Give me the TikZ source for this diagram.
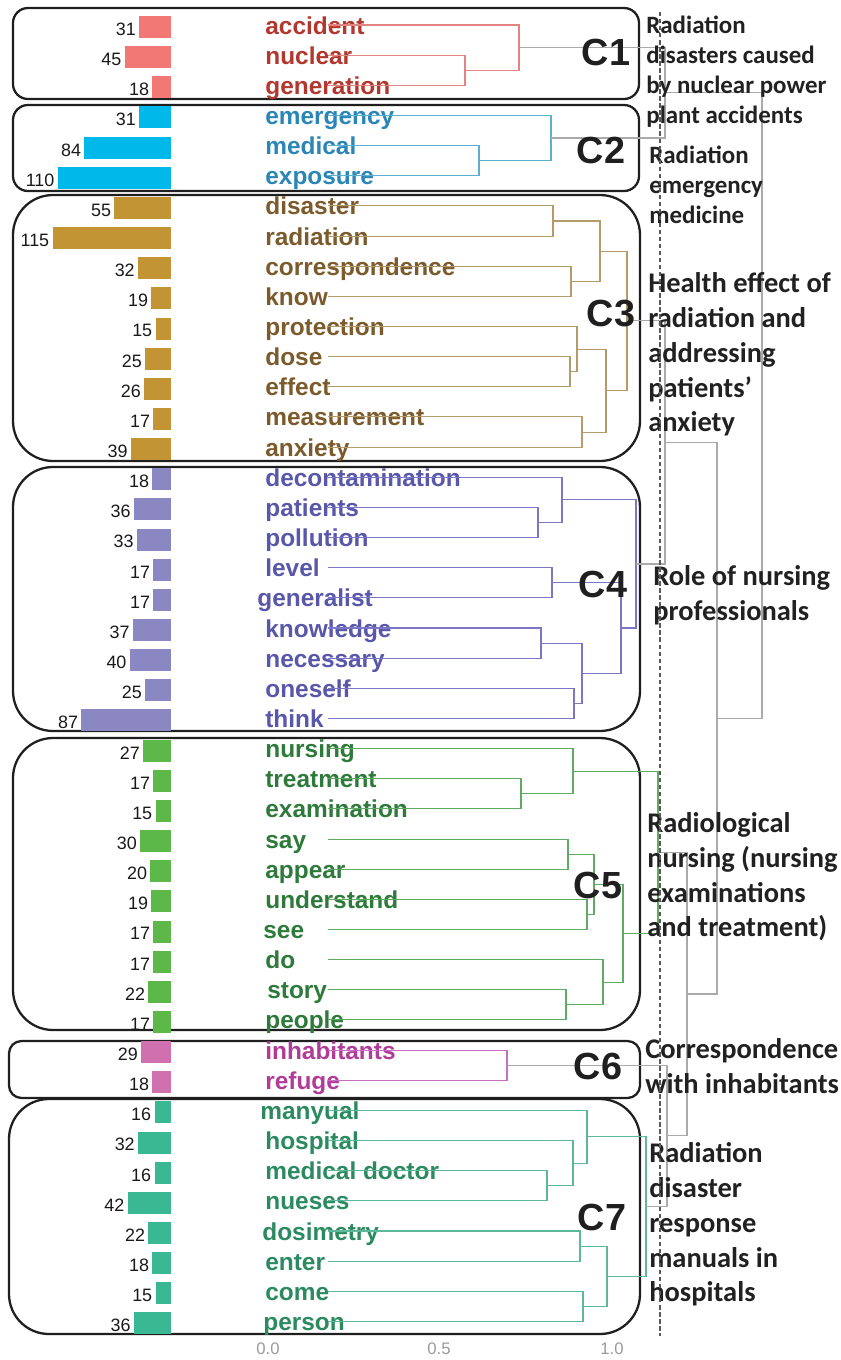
\documentclass[tikz,border=0pt]{standalone}
\usepackage{fontspec}
\setmainfont{Liberation Sans}
\newfontfamily\themefont{Carlito}
\usepackage{tikz}
\usetikzlibrary{calc,positioning}

\definecolor{c1word}{HTML}{B2382F}
\definecolor{c1bar}{HTML}{F27876}
\definecolor{c1line}{HTML}{E38482}
\definecolor{c2word}{HTML}{2B86B6}
\definecolor{c2bar}{HTML}{00B8EA}
\definecolor{c2line}{HTML}{5AAFD3}
\definecolor{c3word}{HTML}{7B5B2C}
\definecolor{c3bar}{HTML}{C39434}
\definecolor{c3line}{HTML}{B59A6A}
\definecolor{c4word}{HTML}{5957A9}
\definecolor{c4bar}{HTML}{8B87C3}
\definecolor{c4line}{HTML}{7B76C6}
\definecolor{c5word}{HTML}{2E7A3B}
\definecolor{c5bar}{HTML}{5CB849}
\definecolor{c5line}{HTML}{5EAB63}
\definecolor{c6word}{HTML}{B03C98}
\definecolor{c6bar}{HTML}{D070AF}
\definecolor{c6line}{HTML}{C86EC2}
\definecolor{c7word}{HTML}{2B8A5F}
\definecolor{c7bar}{HTML}{3AB793}
\definecolor{c7line}{HTML}{5DB89B}
\definecolor{treegrey}{HTML}{AAAAAA}

% one row: bar, count, word and the start of its branch
\newcommand{\leafrow}[5]{%
  \pgfmathsetmacro{\rowy}{25+30.15*#2}
  \fill[#1bar] ({171-1.03*#4},{\rowy-9}) rectangle (171,{\rowy+13});
  \node[num] (num#2) at ({168-1.03*#4},{\rowy+10.4}) {#4};
  \node[word, text=#1word] (word#2) at ({265+#5},{\rowy+9}) {#3};
  \coordinate (leaf#2) at (328,\rowy);
}
% join two branches at height x
\newcommand{\joinat}[5]{%
  \coordinate (#1h) at ($(#2)!0.5!(#3)$);
  \coordinate (#1) at (#4,0 |- #1h);
  \draw[#5] (#2) -| (#1) |- (#3);
}

\begin{document}
\begin{tikzpicture}[x=0.02cm,y=-0.02cm,
	word/.style={font=\bfseries\fontsize{13.9}{16}\selectfont, anchor=base west, inner sep=0},
	num/.style={font=\fontsize{10.2}{12}\selectfont, text=black!90, anchor=base east, inner sep=0},
	clabel/.style={font=\bfseries\fontsize{21.5}{24}\selectfont, text=black!88, inner sep=0},
	theme/.style={font=\themefont\bfseries\fontsize{16.2}{19.8}\selectfont, text=black!87, align=left, anchor=north west, inner sep=0},
	smalltheme/.style={theme, font=\themefont\bfseries\fontsize{14.2}{17}\selectfont},
	axislabel/.style={font=\fontsize{9.5}{11}\selectfont, text=black!40, inner sep=0},
	clusterbox/.style={draw=black!88, line width=1.3pt},
	branch/.style={line width=0.6pt},
	tree/.style={treegrey, line width=0.7pt}]
	\useasboundingbox (0,0) rectangle (840,1360);

	% cluster frames
	\draw[clusterbox, rounded corners=0.3cm] (13,8) rectangle (639,99);
	\draw[clusterbox, rounded corners=0.3cm] (13,105) rectangle (639,191);
	\draw[clusterbox, rounded corners=0.8cm] (13,195) rectangle (640,461);
	\draw[clusterbox, rounded corners=0.8cm] (13,467) rectangle (640,731);
	\draw[clusterbox, rounded corners=0.8cm] (13,738) rectangle (640,1030);
	\draw[clusterbox, rounded corners=0.25cm] (9,1041) rectangle (640,1098);
	\draw[clusterbox, rounded corners=0.8cm] (9,1099) rectangle (640,1334);

	% rows
	\foreach \w/\v/\dx [count=\i from 0] in {accident/31/0,nuclear/45/0,generation/18/0}
		{\leafrow{c1}{\i}{\w}{\v}{\dx}}
	\foreach \w/\v/\dx [count=\i from 3] in {emergency/31/0,medical/84/0,exposure/110/0}
		{\leafrow{c2}{\i}{\w}{\v}{\dx}}
	\foreach \w/\v/\dx [count=\i from 6] in {disaster/55/0,radiation/115/0,correspondence/32/0,know/19/0,protection/15/0,dose/25/0,effect/26/0,measurement/17/0,anxiety/39/0}
		{\leafrow{c3}{\i}{\w}{\v}{\dx}}
	\foreach \w/\v/\dx [count=\i from 15] in {decontamination/18/0,patients/36/0,pollution/33/0,level/17/0,generalist/17/-8,knowledge/37/0,necessary/40/0,oneself/25/0,think/87/0}
		{\leafrow{c4}{\i}{\w}{\v}{\dx}}
	\foreach \w/\v/\dx [count=\i from 24] in {nursing/27/0,treatment/17/0,examination/15/0,say/30/0,appear/20/0,understand/19/0,see/17/-2,do/17/0,story/22/2,people/17/0}
		{\leafrow{c5}{\i}{\w}{\v}{\dx}}
	\foreach \w/\v/\dx [count=\i from 34] in {inhabitants/29/0,refuge/18/0}
		{\leafrow{c6}{\i}{\w}{\v}{\dx}}
	\foreach \w/\v/\dx [count=\i from 36] in {manyual/16/-5,hospital/32/0,medical doctor/16/0,nueses/42/0,dosimetry/22/-3,enter/18/0,come/15/0,person/36/-2}
		{\leafrow{c7}{\i}{\w}{\v}{\dx}}

	% C1
	\joinat{m1a}{leaf1}{leaf2}{465}{c1line, branch}
	\joinat{root1}{leaf0}{m1a}{519}{c1line, branch}
	% C2
	\joinat{m2a}{leaf4}{leaf5}{479}{c2line, branch}
	\joinat{root2}{leaf3}{m2a}{551}{c2line, branch}
	% C3
	\joinat{m3a}{leaf6}{leaf7}{553}{c3line, branch}
	\joinat{m3b}{leaf8}{leaf9}{571}{c3line, branch}
	\joinat{m3c}{m3a}{m3b}{600}{c3line, branch}
	\joinat{m3d}{leaf11}{leaf12}{570}{c3line, branch}
	\joinat{m3e}{leaf10}{m3d}{577}{c3line, branch}
	\joinat{m3f}{leaf13}{leaf14}{582}{c3line, branch}
	\joinat{m3g}{m3e}{m3f}{606}{c3line, branch}
	\joinat{root3}{m3c}{m3g}{627}{c3line, branch}
	% C4
	\joinat{m4a}{leaf16}{leaf17}{538}{c4line, branch}
	\joinat{m4b}{leaf15}{m4a}{562}{c4line, branch}
	\joinat{m4c}{leaf18}{leaf19}{552}{c4line, branch}
	\joinat{m4d}{leaf20}{leaf21}{541}{c4line, branch}
	\joinat{m4e}{leaf22}{leaf23}{574}{c4line, branch}
	\joinat{m4f}{m4d}{m4e}{582}{c4line, branch}
	\joinat{m4g}{m4c}{m4f}{621}{c4line, branch}
	\joinat{root4}{m4b}{m4g}{636}{c4line, branch}
	% C5
	\joinat{m5a}{leaf25}{leaf26}{521}{c5line, branch}
	\joinat{m5b}{leaf24}{m5a}{573}{c5line, branch}
	\joinat{m5c}{leaf27}{leaf28}{568}{c5line, branch}
	\joinat{m5d}{leaf29}{leaf30}{587}{c5line, branch}
	\joinat{m5e}{m5c}{m5d}{594}{c5line, branch}
	\joinat{m5f}{leaf32}{leaf33}{566}{c5line, branch}
	\joinat{m5g}{leaf31}{m5f}{603}{c5line, branch}
	\joinat{m5h}{m5e}{m5g}{623}{c5line, branch}
	\joinat{root5}{m5b}{m5h}{658}{c5line, branch}
	% C6
	\joinat{root6}{leaf34}{leaf35}{507}{c6line, branch}
	% C7
	\joinat{m7a}{leaf38}{leaf39}{547}{c7line, branch}
	\joinat{m7b}{leaf37}{m7a}{573}{c7line, branch}
	\joinat{m7c}{leaf36}{m7b}{587}{c7line, branch}
	\joinat{m7d}{leaf40}{leaf41}{580}{c7line, branch}
	\joinat{m7e}{leaf42}{leaf43}{583}{c7line, branch}
	\joinat{m7f}{m7d}{m7e}{607}{c7line, branch}
	\joinat{root7}{m7c}{m7f}{646}{c7line, branch}
	% upper tree
	\joinat{g12}{root1}{root2}{665}{tree}
	\joinat{g34}{root3}{root4}{665}{tree}
	\joinat{g67}{root6}{root7}{667}{tree}
	\joinat{g567}{root5}{g67}{687}{tree}
	\joinat{g37}{g34}{g567}{717}{tree}
	\joinat{groot}{g12}{g37}{762}{tree}

	% cluster names
	\node[clabel] (lab1) at (606,52) {C1};
	\node[clabel] (lab2) at (601,150) {C2};
	\node[clabel] (lab3) at (611,314) {C3};
	\node[clabel] (lab4) at (603,584) {C4};
	\node[clabel] (lab5) at (598,885) {C5};
	\node[clabel] (lab6) at (598,1066) {C6};
	\node[clabel] (lab7) at (602,1217) {C7};

	% themes
	\node[smalltheme] (theme1) at (646,15.7) {Radiation\\disasters caused\\by nuclear power\\plant accidents};
	\node[smalltheme] (theme2) at (649,145.7) {Radiation\\emergency\\medicine};
	\node[theme] (theme3) at (648,272.3) {Health effect of\\radiation and\\addressing\\patients’\\anxiety};
	\node[theme] (theme4) at (653,565.3) {Role of nursing\\professionals};
	\node[theme] (theme5) at (647,812.3) {Radiological\\nursing (nursing\\examinations\\and treatment)};
	\node[theme] (theme6) at (645,1038.3) {Correspondence\\with inhabitants};
	\node[theme] (theme7) at (649,1142.3) {Radiation\\disaster\\response\\manuals in\\hospitals};

	% axis
	\node[axislabel] (ax0) at (268,1349) {0.0};
	\node[axislabel] (ax5) at (439,1349) {0.5};
	\node[axislabel] (ax10) at (612,1349) {1.0};

	\draw[black!65, line width=0.6pt, dash pattern=on 2.5pt off 1.5pt] (660,12) -- (660,1336);
\end{tikzpicture}
\end{document}
